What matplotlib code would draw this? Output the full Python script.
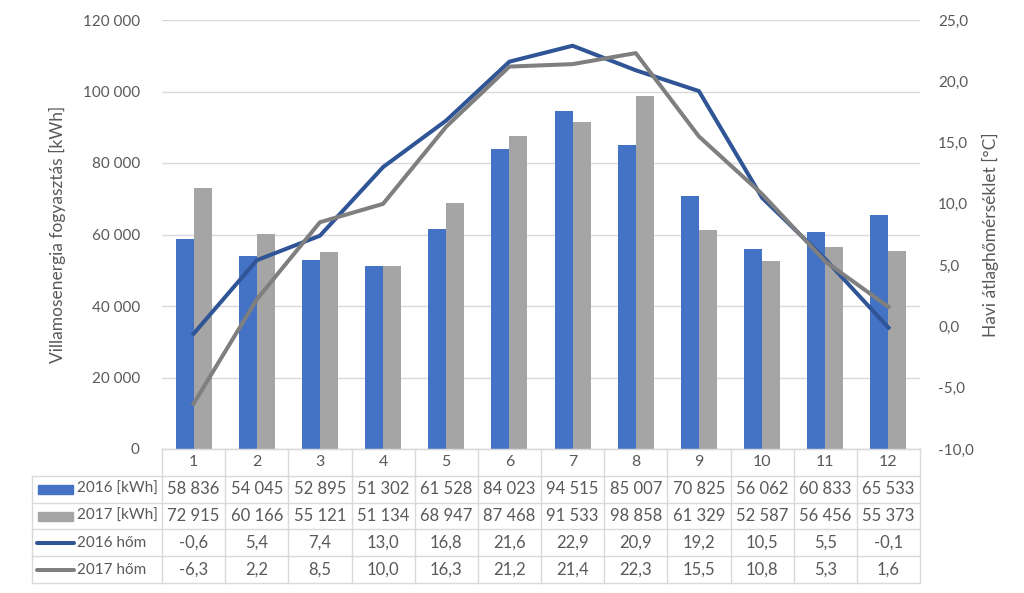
import numpy as np
import matplotlib
matplotlib.use("Agg")
import matplotlib.pyplot as plt
from matplotlib.ticker import FuncFormatter

plt.rcParams['font.family'] = ['Lato', 'DejaVu Sans']

months = ['1', '2', '3', '4', '5', '6', '7', '8', '9', '10', '11', '12']
kwh_2016 = [58836, 54045, 52895, 51302, 61528, 84023, 94515, 85007, 70825, 56062, 60833, 65533]
kwh_2017 = [72915, 60166, 55121, 51134, 68947, 87468, 91533, 98858, 61329, 52587, 56456, 55373]
temp_2016 = [-0.6, 5.4, 7.4, 13.0, 16.8, 21.6, 22.9, 20.9, 19.2, 10.5, 5.5, -0.1]
temp_2017 = [-6.3, 2.2, 8.5, 10.0, 16.3, 21.2, 21.4, 22.3, 15.5, 10.8, 5.3, 1.6]
row_labels = ['2016 [kWh]', '2017 [kWh]', '2016 hőm', '2017 hőm']

c_blue = '#4472C4'
c_gray = '#A5A5A5'
c_line16 = '#2F5597'
c_line17 = '#7F7F7F'
txt = '#595959'
grid_c = '#D9D9D9'

W, H = 1024, 593
fig = plt.figure(figsize=(W / 100, H / 100), dpi=100)

# plot area in pixels
px0, px1 = 162, 920
py_top, py_bot = 20, 449
ax = fig.add_axes([px0 / W, 1 - py_bot / H, (px1 - px0) / W, (py_bot - py_top) / H])

x = np.arange(len(months))
bw = 0.285
ax.bar(x - bw / 2, kwh_2016, bw, color=c_blue, zorder=2)
ax.bar(x + bw / 2, kwh_2017, bw, color=c_gray, zorder=2)
ax.set_xlim(-0.5, len(months) - 0.5)
ax.set_ylim(0, 120000)
ax.set_yticks(np.arange(0, 120001, 20000))
ax.yaxis.set_major_formatter(FuncFormatter(lambda v, p: f"{int(v):,}".replace(",", " ")))
ax.grid(axis='y', color=grid_c, lw=1, zorder=0)
ax.set_axisbelow(True)
ax.set_xticks([])
for s in ['top', 'right', 'left']:
    ax.spines[s].set_visible(False)
ax.spines['bottom'].set_color(grid_c)
ax.tick_params(axis='y', length=0, labelsize=11, colors=txt, pad=16)
ax.set_ylabel('Villamosenergia fogyasztás [kWh]', fontsize=12.5, color=txt, labelpad=12)

ax2 = ax.twinx()
ax2.plot(x, temp_2016, color=c_line16, lw=2.9, zorder=3, solid_joinstyle='round')
ax2.plot(x, temp_2017, color=c_line17, lw=2.9, zorder=3, solid_joinstyle='round')
ax2.set_ylim(-10, 25)
ax2.set_yticks(np.arange(-10, 25.1, 5))
ax2.yaxis.set_major_formatter(FuncFormatter(lambda v, p: f"{v:.1f}".replace(".", ",")))
for s in ax2.spines.values():
    s.set_visible(False)
ax2.tick_params(axis='y', length=0, labelsize=11, colors=txt, pad=13)
ax2.set_ylabel('Havi átlaghőmérséklet [°C]', fontsize=12.5, color=txt, labelpad=6)

# data table drawn below the plot, in pixel coordinates
tab = fig.add_axes([0, 0, 1, 1])
tab.set_xlim(0, W)
tab.set_ylim(H, 0)
tab.axis('off')
tab.patch.set_alpha(0)

lx0 = 32
row_h = 26.8
col_w = (px1 - px0) / len(months)
lc = '#D9D9D9'
n_rows = len(row_labels)
y_hdr_bot = py_bot + row_h
y_end = py_bot + row_h * (n_rows + 1)

# vertical lines
for i in range(len(months) + 1):
    xx = px0 + i * col_w
    tab.plot([xx, xx], [py_bot, y_end], color=lc, lw=1)
tab.plot([lx0, lx0], [y_hdr_bot, y_end], color=lc, lw=1)
# horizontal lines
tab.plot([px0, px1], [py_bot, py_bot], color=lc, lw=1)
for r in range(1, n_rows + 2):
    yy = py_bot + r * row_h
    tab.plot([lx0, px1], [yy, yy], color=lc, lw=1)

for i, m in enumerate(months):
    tab.text(px0 + (i + 0.5) * col_w, py_bot + row_h / 2, m, ha='center', va='center',
             fontsize=11.5, color=txt)

rows = [
    [f"{v:,}".replace(",", " ") for v in kwh_2016],
    [f"{v:,}".replace(",", " ") for v in kwh_2017],
    [f"{v:.1f}".replace(".", ",") for v in temp_2016],
    [f"{v:.1f}".replace(".", ",") for v in temp_2017],
]
for r, vals in enumerate(rows):
    yc = py_bot + (r + 1.5) * row_h
    for i, s in enumerate(vals):
        tab.text(px0 + (i + 0.5) * col_w, yc, s, ha='center', va='center', fontsize=12, color=txt)
    tab.text(77, yc, row_labels[r], ha='left', va='center', fontsize=11, color=txt)

# legend keys in the label column
for r in range(2):
    yc = py_bot + (r + 1.5) * row_h
    tab.add_patch(plt.Rectangle((38, yc - 4.5), 35, 9, color=[c_blue, c_gray][r]))
for r in range(2, 4):
    yc = py_bot + (r + 1.5) * row_h
    tab.plot([37, 74], [yc, yc], color=[c_line16, c_line17][r - 2], lw=2.9,
             solid_capstyle='round')

fig.savefig('out.png', dpi=100)
